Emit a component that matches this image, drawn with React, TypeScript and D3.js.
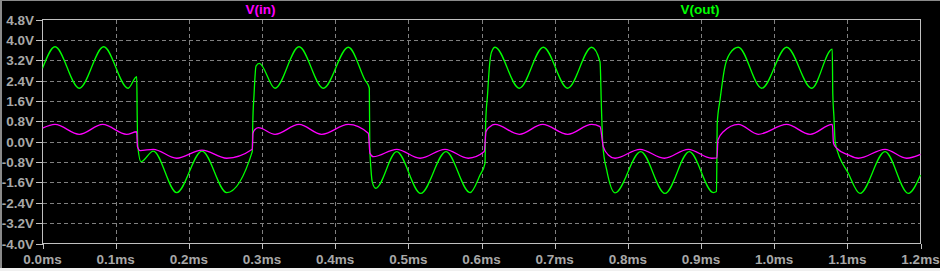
import React from 'react';
import * as d3 from 'd3';

// ---- data ----
const xTickValues = [0.0, 0.1, 0.2, 0.3, 0.4, 0.5, 0.6, 0.7, 0.8, 0.9, 1.0, 1.1, 1.2];
const yTickValues = [4.8, 4.0, 3.2, 2.4, 1.6, 0.8, 0.0, -0.8, -1.6, -2.4, -3.2, -4.0];
const seriesNames = ['V(in)', 'V(out)'];

// V(in): time (ms) / voltage (V)
const vinTime = [
  0, 0.0171, 0.0503, 0.0823, 0.1151, 0.1287, 0.1298, 0.1333, 0.1514, 0.1834,
  0.218, 0.2518, 0.2867, 0.2877, 0.2898, 0.2949, 0.3178, 0.3506, 0.3816, 0.418,
  0.4453, 0.4476, 0.4521, 0.4841, 0.516, 0.5501, 0.582, 0.6038, 0.6061, 0.6116,
  0.6185, 0.6517, 0.6836, 0.7178, 0.7506, 0.762, 0.7665, 0.7733, 0.7825, 0.8166,
  0.8498, 0.8826, 0.9146, 0.9218, 0.9232, 0.9305, 0.951, 0.9783, 1.0171, 1.049,
  1.0795, 1.0811, 1.0855, 1.1013, 1.115, 1.1515, 1.1811, 1.2,
];
const vinVolt = [
  0.53, 0.68, 0.29, 0.68, 0.29, 0.39, -0.2, -0.35, -0.3, -0.65,
  -0.33, -0.65, -0.3, 0.33, 0.46, 0.55, 0.29, 0.68, 0.29, 0.68,
  0.33, -0.46, -0.59, -0.3, -0.65, -0.3, -0.65, -0.39, 0.39, 0.59,
  0.68, 0.29, 0.68, 0.29, 0.68, 0.59, -0.2, -0.52, -0.65, -0.3,
  -0.65, -0.3, -0.65, -0.64, 0.07, 0.39, 0.68, 0.29, 0.68, 0.29,
  0.68, -0.06, -0.26, -0.52, -0.65, -0.3, -0.65, -0.5,
];

// V(out): time (ms) / voltage (V)
const voutTime = [
  0, 0.0171, 0.0503, 0.0836, 0.117, 0.1288, 0.1294, 0.1305, 0.1346, 0.1514,
  0.1834, 0.218, 0.2518, 0.2867, 0.2874, 0.2891, 0.2918, 0.2963, 0.3178, 0.3506,
  0.3838, 0.418, 0.4408, 0.4467, 0.4473, 0.449, 0.451, 0.4554, 0.4841, 0.5169,
  0.5515, 0.5843, 0.598, 0.6048, 0.6057, 0.6082, 0.611, 0.6137, 0.6185, 0.6517,
  0.6845, 0.7178, 0.7506, 0.762, 0.764, 0.766, 0.7711, 0.7825, 0.8176, 0.8508,
  0.884, 0.9168, 0.9212, 0.9222, 0.926, 0.9327, 0.9396, 0.951, 0.983, 1.0171,
  1.0513, 1.0794, 1.0801, 1.0817, 1.0835, 1.1013, 1.1173, 1.1515, 1.1833, 1.2,
];
const voutVolt = [
  2.88, 3.73, 2.1, 3.73, 2.1, 2.55, 1.05, -0.25, -0.79, -0.37,
  -2.0, -0.37, -2.0, -0.39, 0.72, 1.83, 2.97, 3.08, 2.1, 3.73,
  2.1, 3.71, 2.42, 2.1, -0.17, -1.11, -1.62, -1.83, -0.39, -2.03,
  -0.39, -2.0, -1.31, -0.85, 0.73, 1.83, 3.01, 3.52, 3.71, 2.1,
  3.71, 2.1, 3.71, 3.14, 1.25, -0.2, -1.11, -2.01, -0.39, -2.03,
  -0.39, -2.0, -1.96, 0.72, 1.64, 2.95, 3.47, 3.71, 2.1, 3.71,
  2.1, 3.64, 1.9, 0.98, -0.06, -1.24, -2.03, -0.39, -2.03, -1.31,
];

const seriesColors = ['#ff00ff', '#00ff00'];

export default function App() {
  const W = 940;
  const H = 271;
  const left = 42.5, right = 920.5, top = 19.5, bottom = 243.5;

  const x = d3.scaleLinear().domain([0, 1.2]).range([left, right]);
  const y = d3.scaleLinear().domain([-4, 4.8]).range([bottom, top]);

  const line = d3
    .line<[number, number]>()
    .x((d) => x(d[0]))
    .y((d) => y(d[1]))
    .curve(d3.curveMonotoneX);

  const vinData: [number, number][] = vinTime.map((t, i) => [t, vinVolt[i]]);
  const voutData: [number, number][] = voutTime.map((t, i) => [t, voutVolt[i]]);

  const font = "'Liberation Sans', Arial, sans-serif";
  const labelColor = '#a8a8a8';
  const frameColor = '#c0c0c0';
  const gridColor = '#808080';

  return (
    <svg
      width={W}
      height={H}
      style={{ position: 'absolute', left: 0, top: 0, display: 'block' }}
      fontFamily={font}
      fontWeight="bold"
      fontSize={13.5}
    >
      <rect x={0} y={0} width={W} height={H} fill="#000" />
      {/* window border */}
      <rect x={0} y={0} width={W} height={1} fill="#8a8a8a" />
      <rect x={0} y={0} width={2} height={H} fill="#8a8a8a" />
      <rect x={0} y={268} width={W} height={3} fill="#f0f0f0" />

      <defs>
        <clipPath id="plotClip">
          <rect x={left} y={top - 1} width={right - left + 1} height={bottom - top + 2} />
        </clipPath>
      </defs>

      {/* grid */}
      <g stroke={gridColor} strokeWidth={1} strokeDasharray="4,3" shapeRendering="crispEdges">
        {yTickValues
          .filter((v) => v !== 4.8 && v !== -4.0)
          .map((v) => (
            <line key={'gy' + v} x1={left} x2={right} y1={Math.round(y(v)) + 0.5} y2={Math.round(y(v)) + 0.5} />
          ))}
        {xTickValues
          .filter((t) => t !== 0 && t !== 1.2)
          .map((t) => (
            <line key={'gx' + t} x1={Math.round(x(t)) + 0.5} x2={Math.round(x(t)) + 0.5} y1={top} y2={bottom} />
          ))}
      </g>

      {/* frame & ticks */}
      <g stroke={frameColor} strokeWidth={1} fill="none" shapeRendering="crispEdges">
        <rect x={left} y={top} width={right - left} height={bottom - top} />
        {yTickValues.map((v) => (
          <line key={'ty' + v} x1={36} x2={left} y1={Math.round(y(v)) + 0.5} y2={Math.round(y(v)) + 0.5} />
        ))}
        {xTickValues.map((t) => (
          <line key={'tx' + t} x1={Math.round(x(t)) + 0.5} x2={Math.round(x(t)) + 0.5} y1={bottom} y2={bottom + 5} />
        ))}
      </g>

      {/* tick labels */}
      <g fill={labelColor}>
        {yTickValues.map((v) => (
          <text key={'ly' + v} x={34} y={y(v) + 5} textAnchor="end">
            {v.toFixed(1) + 'V'}
          </text>
        ))}
        {xTickValues.map((t) => (
          <text key={'lx' + t} x={x(t)} y={264} textAnchor="middle">
            {t.toFixed(1) + 'ms'}
          </text>
        ))}
      </g>

      {/* series titles */}
      <text x={260.5} y={14} textAnchor="middle" fill={seriesColors[0]}>
        {seriesNames[0]}
      </text>
      <text x={700} y={14} textAnchor="middle" fill={seriesColors[1]}>
        {seriesNames[1]}
      </text>

      {/* traces */}
      <g clipPath="url(#plotClip)" fill="none" strokeWidth={1.3}>
        <path d={line(voutData) || ''} stroke={seriesColors[1]} />
        <path d={line(vinData) || ''} stroke={seriesColors[0]} />
      </g>
    </svg>
  );
}
